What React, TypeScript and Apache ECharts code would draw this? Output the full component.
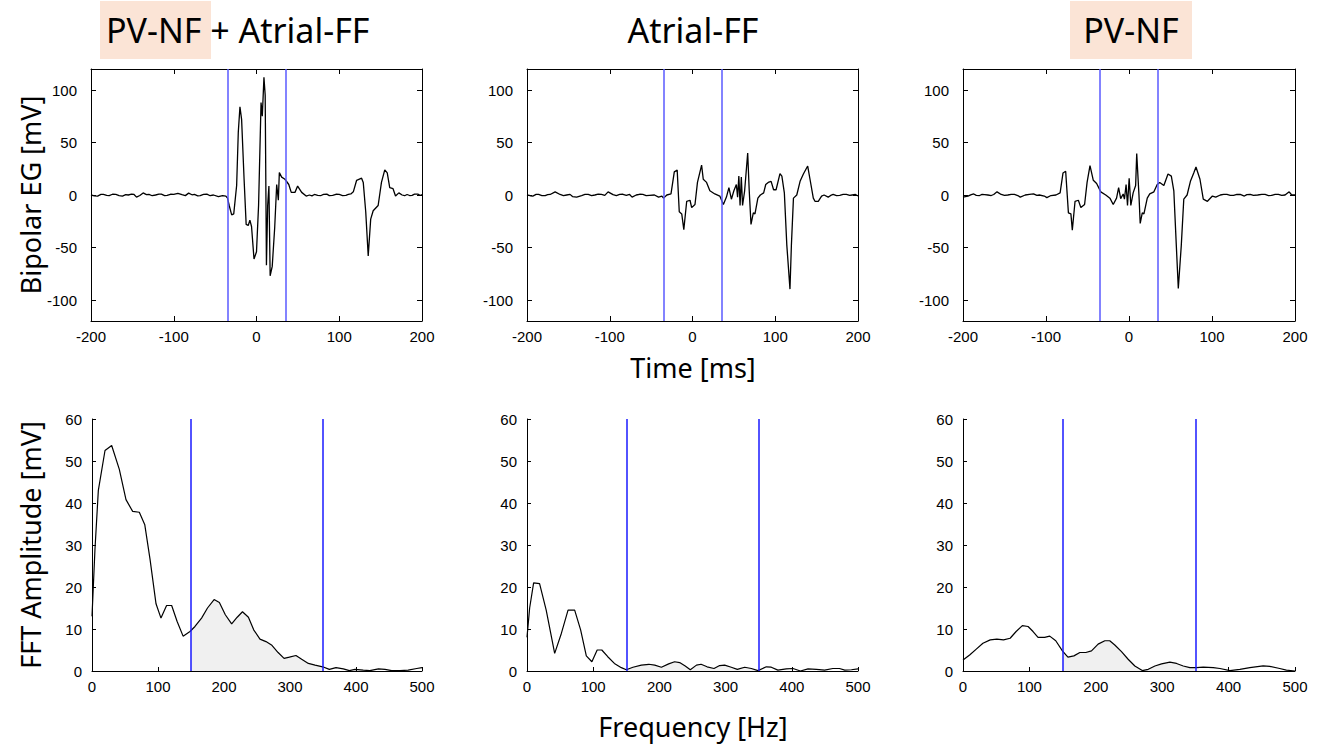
import React, { useEffect, useRef } from "react";
import * as echarts from "echarts";

// ---------- Top row: bipolar electrograms (time in ms, amplitude in mV) ----------
const egTime1 = [-200, -196, -192, -188, -185, -181, -178, -174, -170, -166, -162, -158, -155, -151, -148, -145, -141, -137, -133, -130, -126, -122, -118, -115, -111, -108, -104, -100, -95, -90, -86, -82, -78, -75, -71, -68, -64, -60, -56, -52, -46, -41, -37, -35, -33, -30, -27.5, -24, -22, -20, -18, -15, -12.5, -10, -8, -6, -3, 0, 2.5, 5.5, 7, 9, 10.5, 12, 13.5, 15, 16.5, 19, 22, 24.4, 26.4, 27.6, 30.4, 34.4, 39, 42, 46.5, 49.7, 54.6, 60, 64, 67, 70, 74, 78, 81, 85, 88, 92, 96, 100, 104, 108, 111, 114, 117, 121, 127, 129, 132, 135, 138, 141, 147, 151, 155, 158, 161, 165, 168, 172, 176, 179, 182, 185, 188, 191, 195, 198, 200];
const egVal1 = [0, -0.8, -1, 0.6, 0.5, -0.4, -0.5, 0.7, 0.5, -0.6, -1, 0.4, 0, 0.9, 0.5, -2, -0.5, 2, 0.3, 0.5, -0.7, 0, 0.9, 0.8, -0.6, -0.3, 0.7, 0.5, 1.5, 0.3, -0.6, 1.8, 0.2, 0.5, -0.8, -0.5, 0.6, 0.8, -0.7, 0, -1.5, -0.5, -1, -3, -10, -19, -18, 9, 60, 84, 72, 15, -28, -29, -24, -30, -61, -54, -10, 88, 75, 112, 95, -67, -10, 8.5, -77, -68, -31, 10, -5, 21.5, 17, 15, 10, 2.5, 2.5, 8.5, 2.5, -1, 0, -0.8, 0.5, -0.3, -0.5, 0.6, 0.8, -0.6, -0.3, 0.7, 0.5, -0.5, -0.3, 0.6, 1, 3, 14, 16, 12, -16, -58, -23, -15, -10, 12, 24, 21, 7, 6, -1, 2, 0, -0.7, 0.5, -0.5, -0.3, 0.9, 0.8, -0.5, 0.3];

const egTime2 = [-200, -196, -193, -189, -186, -182, -178, -175, -172, -166, -160, -156, -152, -148, -145, -140, -134, -130, -126, -122, -118, -114, -110, -106, -102, -96, -92, -88, -84, -80, -76, -73, -68, -64, -60, -56, -52, -46, -41, -37, -35, -31, -26, -22, -18.5, -16, -13, -10.5, -7, -3, -1, 3, 6, 11, 13, 17, 21, 27, 33, 37.3, 41, 44, 47, 50, 53, 54.5, 56, 57.5, 59, 60.5, 63, 66.7, 68.5, 70.7, 73.5, 75.5, 79, 82, 86, 88.5, 91.5, 95, 98, 101, 105.7, 108, 111, 114, 117.8, 119.5, 122, 126, 130, 134, 139.2, 142, 146, 148, 152, 156, 159, 164, 167, 170, 174, 178, 182, 186, 190, 193, 197, 200];
const egVal2 = [0, -0.7, -1, 0.6, 0.5, -0.6, -0.5, 0.4, 0.5, 3, 0.5, -0.6, 0, 0.6, -1.5, -2, -0.5, 0.6, 0.5, -0.6, 0, 0.8, 0.5, -0.4, 3, 0.3, -0.6, 0.5, 0.7, -0.3, 0.5, -2, 0, 0.7, 0.5, -0.5, -0.3, 0, -2, -1, -3, 0, 1, 22, 23.7, -16, -18, -33, -6, -5, -12, -9, 12, 28.5, 15, 12, 4, 1, -1, -9, -2, 7, -4, 4, 10, -2, 18, -10, 17, -10, 4, 40, 5, -28, -17, -18, -3, 0, 2, 10, 12, 13, 5, 5, 20.3, 18, 2, -48, -89.6, -48, -3, 0, 13, 20, 27.6, 15, -3, -6, -6, -1, 0, -2, -0.4, 0.5, -0.5, -0.3, 0.6, 0.5, -0.4, 0, 0.5, -1];

const egTime3 = [-200, -197, -194, -190, -187, -184, -180, -177, -174, -170, -166, -163, -159, -154, -150, -146, -142, -138, -134, -131, -125, -120, -115, -111, -108, -102, -99, -94, -88, -83, -79.5, -76.3, -73, -70, -68.3, -65, -61, -58, -53.5, -50.5, -47, -43, -39, -34, -28, -23, -19, -15, -12.5, -10, -7, -5.5, -3.5, -1.8, 0.2, 2.2, 5, 8, 9.3, 12, 13.5, 16, 18, 22, 25, 30, 34, 37, 42, 47, 51, 54, 57, 59.4, 63, 66, 70, 74, 78, 80.7, 85.5, 89.5, 94.5, 100.5, 104.5, 110, 114, 118, 122, 126, 130, 134, 139, 142, 146, 150, 155, 160, 164, 168, 172, 176, 180, 184, 188, 193, 196, 200];
const egVal3 = [-2, -1.5, -1, 0.4, 1, -0.3, -0.5, 0.6, 0.4, 0, -0.5, 0.5, 3, 0.5, -0.4, 0, 0.6, 0.5, -0.5, -2, 0, 0.6, 1, -0.4, 0, -1, -2.5, -0.5, 0, 2, 21, 22.6, -17, -18, -33.5, -6, -5, -12, -9, 12, 28, 14, 11, 3, 0, -3, -9, -3, 7, -3.5, 1, -4, 10, -10, 16, -10, 2, 9, 39.6, 0, -27, -17, -18, -3, 1, 3, 10, 12, 9, 20, 18, 4, -48, -89, -48, -4, 0, 13, 21, 26.7, 15, -4, -6, -1, -2, 0, 0.6, 0.5, -0.4, -0.3, 0.5, 0.5, -1, 0.4, 0.5, -0.4, 0, 0.6, 0.5, -0.5, -0.3, 0.6, 0.5, -0.4, 0, 3, 0, 0];

// ---------- Bottom row: FFT amplitude spectra (frequency in Hz, amplitude in mV) ----------
const fftFreq1 = [0, 4.5, 9.6, 19.7, 29.8, 41.4, 51.5, 61.6, 71.7, 80, 88, 97, 104.5, 113, 120.7, 129, 138, 148.5, 156, 166, 175, 185, 193, 202, 211.6, 220, 228, 237, 245, 254.5, 263.6, 272, 282, 291, 299, 309, 317.7, 327.8, 338, 349.5, 359.6, 369.7, 380.8, 390, 398.5, 411, 421, 434, 444, 454, 466.7, 479, 492, 500];
const fftAmp1 = [13, 29, 43, 52.5, 53.7, 48, 40.8, 38, 37.8, 34.8, 26.5, 16, 12.6, 15.6, 15.6, 11.8, 8.3, 9.4, 10.6, 12.6, 15, 17, 16.3, 13.4, 11.2, 12.8, 14.1, 12.8, 9.8, 7.6, 7, 6.2, 4.4, 3, 3.3, 3.7, 2.8, 1.8, 1.4, 1, 0.4, 0.8, 0.5, 0.1, 0.4, 0.2, 0.1, 0.5, 0.4, 0.1, 0.1, 0.2, 0.6, 0.8];

const fftFreq2 = [0, 4, 10, 19, 29, 41.8, 52, 62, 72, 81, 89.6, 98, 106, 113, 122, 132, 142.5, 150, 160, 172.7, 184, 193, 203, 214, 223, 230.6, 239, 246.7, 256, 263, 272, 282.5, 291, 298.6, 308.6, 317.7, 328.8, 338.9, 349, 361.5, 369, 379, 391.7, 401.8, 413, 424.5, 437, 449.6, 462, 472, 480, 490, 500];
const fftAmp2 = [8, 15, 21, 20.8, 14.5, 4.2, 9, 14.5, 14.5, 9.8, 3.6, 2.2, 5, 5, 3.4, 1.8, 0.8, 0.3, 0.9, 1.4, 1.6, 1.4, 0.9, 1.7, 2.2, 2, 1.2, 0.3, 1.4, 1.6, 1, 0.6, 1.3, 1.4, 0.9, 0.4, 0.9, 0.6, 0.1, 1, 0.9, 0.2, 0.5, 0.6, 0, 0.5, 0.4, 0.2, 0.6, 0.6, 0.2, 0.3, 0.5];

const fftFreq3 = [0, 10, 20, 30, 41, 51, 61, 71, 80, 89.4, 98, 105.5, 113, 123, 130.6, 139.7, 149.7, 158, 167, 176, 185, 193.5, 203.5, 213.6, 221, 228.6, 238.7, 248.7, 258.8, 270, 279, 289, 299, 311.6, 321.6, 331.7, 341.7, 351.8, 361.8, 376.9, 387, 402, 417, 432, 452, 462, 477, 487, 500];
const fftAmp3 = [2.6, 3.8, 5.2, 6.6, 7.4, 7.6, 7.4, 7.8, 9.4, 10.8, 10.6, 9.4, 8, 8, 8.3, 7.2, 4.8, 3.3, 3.6, 4.4, 4.4, 4.8, 6.4, 7.2, 7.2, 6.2, 4.6, 2.8, 1.2, 0.1, 0.4, 1.2, 1.7, 2.1, 1.8, 1.2, 0.8, 0.8, 0.9, 0.8, 0.6, 0.1, 0.4, 0.8, 1.2, 1.1, 0.6, 0.2, 0];

// ---------- Labels ----------
const egTicks = [-100, -50, 0, 50, 100];
const windowTime = [-35, 35];
const windowFreq = [150, 350];
const panelTitles = ["PV-NF + Atrial-FF", "Atrial-FF", "PV-NF"];
const axisNames = { egY: "Bipolar EG [mV]", fftY: "FFT Amplitude [mV]", time: "Time [ms]", freq: "Frequency [Hz]" };

const pairs = (xs: number[], ys: number[]) => xs.map((x, i) => [x, ys[i]]);

// area under the curve within the [lo, hi] window (endpoints placed on the curve)
const bandArea = (xs: number[], ys: number[], lo: number, hi: number) => {
  const out: number[][] = [];
  const at = (x: number) => {
    for (let i = 0; i < xs.length - 1; i++) {
      if (x >= xs[i] && x <= xs[i + 1]) {
        const t = (x - xs[i]) / (xs[i + 1] - xs[i]);
        return ys[i] + t * (ys[i + 1] - ys[i]);
      }
    }
    return 0;
  };
  out.push([lo, at(lo)]);
  xs.forEach((x, i) => { if (x > lo && x < hi) out.push([x, ys[i]]); });
  out.push([hi, at(hi)]);
  return out;
};

const TICK_FONT = "'Liberation Sans', Arial, sans-serif";
const TITLE_FONT = "'Noto Sans', 'Open Sans', sans-serif";

const topLefts = [91, 527, 963];
const topWidths = [331, 331, 332];
const botLefts = [92, 527, 963];
const botWidths = [330, 331, 332];
const TOP_Y = 69, TOP_H = 252, BOT_Y = 419, BOT_H = 252;

export default function App() {
  const ref = useRef<HTMLDivElement>(null);

  useEffect(() => {
    if (!ref.current) return;
    const chart = echarts.init(ref.current, undefined, { renderer: "svg" });

    const grids: any[] = [];
    const xAxes: any[] = [];
    const yAxes: any[] = [];
    const series: any[] = [];

    const lineBlack = { show: true, onZero: false, lineStyle: { color: "#000", width: 1 } };
    const tickIn = (len: number, custom?: number[]) => ({ show: true, inside: true, length: len, lineStyle: { color: "#000", width: 1 }, ...(custom ? { customValues: custom } : {}) });
    const lab = (margin: number, custom?: number[]) => ({ show: true, color: "#000", fontSize: 15, fontFamily: TICK_FONT, margin, ...(custom ? { customValues: custom } : {}) });
    const noLab = { show: false };

    const egData = [pairs(egTime1, egVal1), pairs(egTime2, egVal2), pairs(egTime3, egVal3)];
    const fftX = [fftFreq1, fftFreq2, fftFreq3];
    const fftY = [fftAmp1, fftAmp2, fftAmp3];

    for (let p = 0; p < 3; p++) {
      const gTop = grids.length;
      grids.push({ left: topLefts[p], top: TOP_Y, width: topWidths[p], height: TOP_H, containLabel: false });
      const xb = xAxes.length;
      xAxes.push({ gridIndex: gTop, type: "value", position: "bottom", min: -200, max: 200, interval: 100, axisLine: lineBlack, axisTick: tickIn(5), axisLabel: lab(8), splitLine: { show: false } });
      xAxes.push({ gridIndex: gTop, type: "value", position: "top", min: -200, max: 200, interval: 100, axisLine: lineBlack, axisTick: tickIn(5), axisLabel: noLab, splitLine: { show: false } });
      const yl = yAxes.length;
      yAxes.push({ gridIndex: gTop, type: "value", position: "left", min: -120, max: 120, axisLine: lineBlack, axisTick: tickIn(5, egTicks), axisLabel: lab(14, egTicks), splitLine: { show: false } });
      yAxes.push({ gridIndex: gTop, type: "value", position: "right", min: -120, max: 120, axisLine: lineBlack, axisTick: tickIn(5, egTicks), axisLabel: noLab, splitLine: { show: false } });

      series.push({
        type: "line", xAxisIndex: xb, yAxisIndex: yl, data: egData[p], showSymbol: false, symbol: "none",
        lineStyle: { color: "#000", width: 1.3 }, z: 3,
      });
      series.push({
        type: "line", xAxisIndex: xb, yAxisIndex: yl, data: [], showSymbol: false, z: 4,
        markLine: {
          silent: true, symbol: "none", label: { show: false },
          lineStyle: { color: "#5a5aff", width: 1.5, type: "solid" },
          data: windowTime.map((t) => ({ xAxis: t })),
        },
      });

      const gBot = grids.length;
      grids.push({ left: botLefts[p], top: BOT_Y, width: botWidths[p], height: BOT_H, containLabel: false });
      const xb2 = xAxes.length;
      xAxes.push({ gridIndex: gBot, type: "value", position: "bottom", min: 0, max: 500, interval: 100, axisLine: lineBlack, axisTick: tickIn(4), axisLabel: lab(8), splitLine: { show: false } });
      const yl2 = yAxes.length;
      yAxes.push({ gridIndex: gBot, type: "value", position: "left", min: 0, max: 60, interval: 10, axisLine: lineBlack, axisTick: tickIn(4), axisLabel: lab(10), splitLine: { show: false } });

      series.push({
        type: "line", xAxisIndex: xb2, yAxisIndex: yl2, data: bandArea(fftX[p], fftY[p], windowFreq[0], windowFreq[1]),
        showSymbol: false, symbol: "none", lineStyle: { width: 0, opacity: 0 }, areaStyle: { color: "#f0f0f0", opacity: 1 }, z: 1,
      });
      series.push({
        type: "line", xAxisIndex: xb2, yAxisIndex: yl2, data: pairs(fftX[p], fftY[p]), showSymbol: false, symbol: "none",
        lineStyle: { color: "#000", width: 1.2 }, z: 3,
      });
      series.push({
        type: "line", xAxisIndex: xb2, yAxisIndex: yl2, data: [], showSymbol: false, z: 4,
        markLine: {
          silent: true, symbol: "none", label: { show: false },
          lineStyle: { color: "#1a1aff", width: 1.5, type: "solid" },
          data: windowFreq.map((f) => ({ xAxis: f })),
        },
      });
    }

    const titleY = 30;
    const tFont = `34px ${TITLE_FONT}`;
    const aFont = `27px ${TITLE_FONT}`;
    const graphic: any[] = [
      { type: "rect", shape: { x: 100, y: 1, width: 111, height: 58 }, style: { fill: "#fbe4d6" }, z: 0 },
      { type: "rect", shape: { x: 1070, y: 1, width: 122, height: 58 }, style: { fill: "#fbe4d6" }, z: 0 },
      { type: "text", x: 106, y: titleY, style: { text: panelTitles[0], font: tFont, fill: "#000", align: "left", verticalAlign: "middle" }, z: 2 },
      { type: "text", x: 693, y: titleY, style: { text: panelTitles[1], font: tFont, fill: "#000", align: "center", verticalAlign: "middle" }, z: 2 },
      { type: "text", x: 1131, y: titleY, style: { text: panelTitles[2], font: tFont, fill: "#000", align: "center", verticalAlign: "middle" }, z: 2 },
      { type: "text", x: 30, y: 195, rotation: Math.PI / 2, style: { text: axisNames.egY, font: aFont, fill: "#000", align: "center", verticalAlign: "middle" } },
      { type: "text", x: 30, y: 545, rotation: Math.PI / 2, style: { text: axisNames.fftY, font: aFont, fill: "#000", align: "center", verticalAlign: "middle" } },
      { type: "text", x: 693, y: 367, style: { text: axisNames.time, font: aFont, fill: "#000", align: "center", verticalAlign: "middle" } },
      { type: "text", x: 693, y: 726, style: { text: axisNames.freq, font: aFont, fill: "#000", align: "center", verticalAlign: "middle" } },
    ];

    chart.setOption({
      animation: false,
      backgroundColor: "#fff",
      grid: grids,
      xAxis: xAxes,
      yAxis: yAxes,
      series,
      graphic,
    });

    return () => chart.dispose();
  }, []);

  return <div ref={ref} style={{ position: "absolute", left: 0, top: 0, width: 1317, height: 745 }} />;
}
